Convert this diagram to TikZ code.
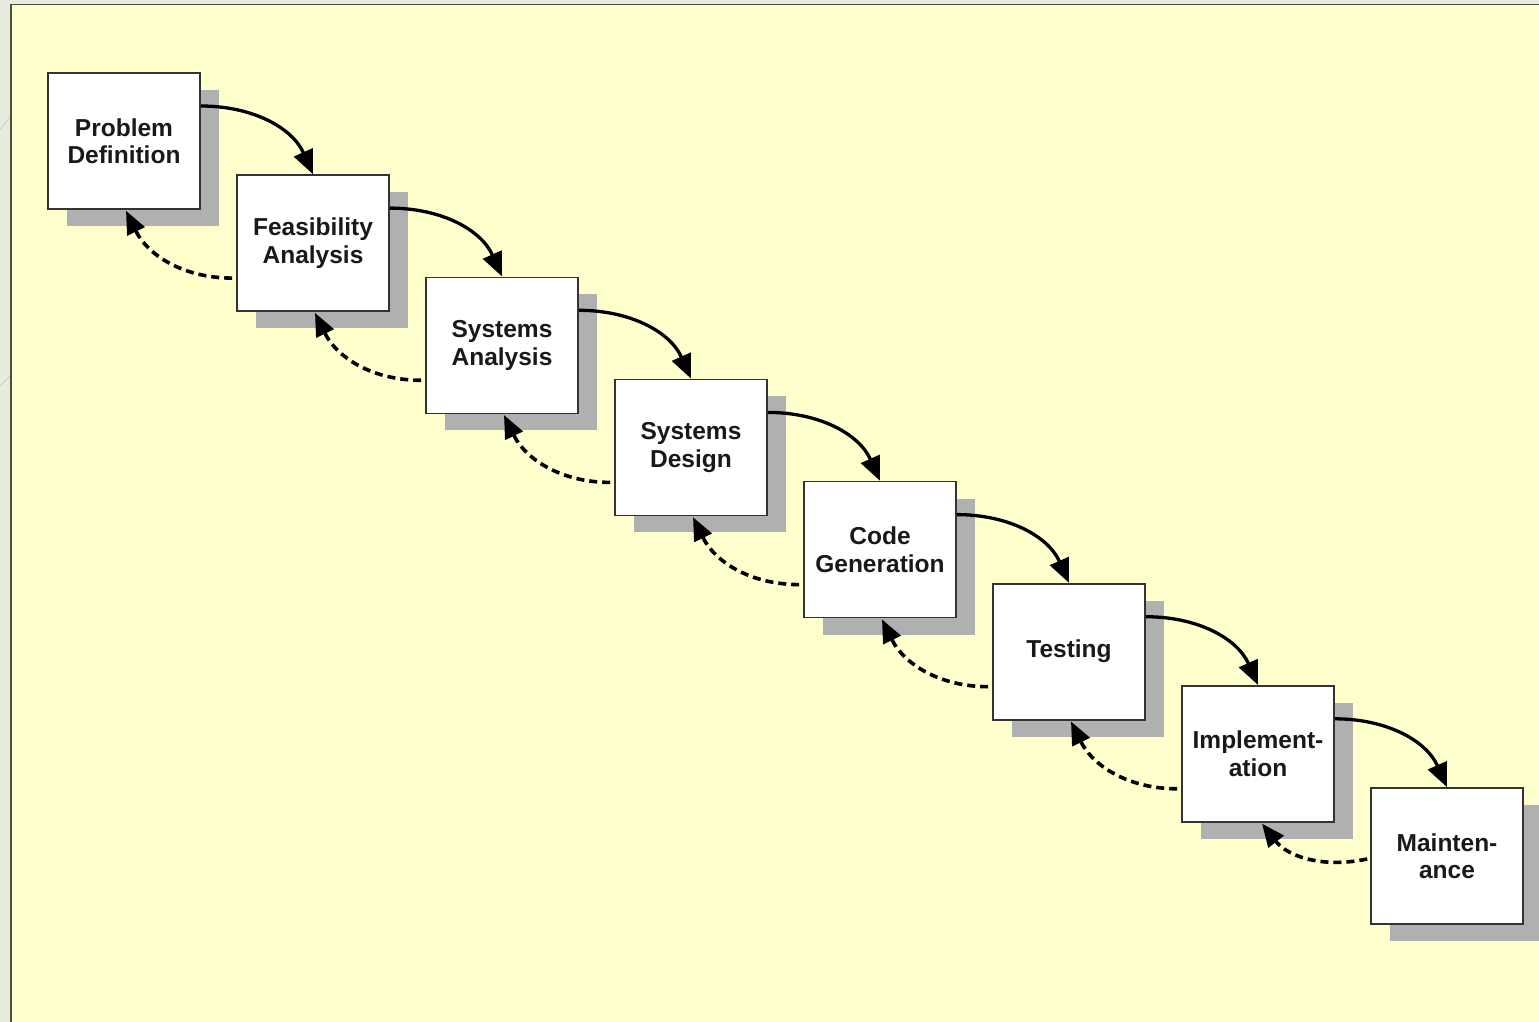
\documentclass[tikz,border=0pt]{standalone}
\usepackage{fontspec}
\setmainfont{Liberation Sans}
\usetikzlibrary{arrows.meta,shadows,calc}
\definecolor{outerbg}{HTML}{E9ECDD}
\definecolor{panelbg}{HTML}{FFFFCE}
\definecolor{panelrule}{HTML}{4C5140}
\definecolor{shadowgray}{HTML}{B0B0B0}
\definecolor{boxrule}{HTML}{333333}
\tikzset{
  stagebox/.style={rectangle, draw=boxrule, line width=1.6pt, fill=white,
    minimum width=152pt, minimum height=136pt, inner sep=0pt,
    align=center, text=black!90,
    font=\bfseries\fontsize{24.5}{27.5}\selectfont,
    general shadow={fill=shadowgray, draw=none, shadow xshift=19pt, shadow yshift=-17pt}},
  forward/.style={line width=3.3pt, -{Triangle[length=24pt,width=20pt]}},
  backward/.style={line width=3.6pt, dash pattern=on 8pt off 5pt,
    -{Triangle[length=23pt,width=19pt]}},
}
\begin{document}
\begin{tikzpicture}[x=1pt,y=-1pt]
  \useasboundingbox (0,0) rectangle (1539,1022);
  % surrounding window and yellow panel
  \fill[outerbg] (0,0) rectangle (1539,1022);
  \fill[panelbg] (11,4.5) rectangle (1539,1022);
  \draw[panelrule, line width=1.8pt] (11,1022) -- (11,4.5) -- (1539,4.5);
  \draw[black!25, line width=0.6pt] (0,130) -- (10,117);
  \draw[black!25, line width=0.6pt] (0,386) -- (10,376);

  % the eight stages, stepping down to the right
  \node[stagebox] (b1) at (124,141) {Problem\\Definition};
  \node[stagebox] (b2) at (313,243.1) {Feasibility\\Analysis};
  \node[stagebox] (b3) at (502,345.3) {Systems\\Analysis};
  \node[stagebox] (b4) at (691,447.4) {Systems\\Design};
  \node[stagebox] (b5) at (880,549.6) {Code\\Generation};
  \node[stagebox] (b6) at (1069,651.7) {Testing};
  \node[stagebox] (b7) at (1258,753.8) {Implement-\\ation};
  \node[stagebox] (b8) at (1447,856) {Mainten-\\ance};

  % forward flow: from each stage's right side onto the next stage's top
  \foreach \a/\b in {b1/b2,b2/b3,b3/b4,b4/b5,b5/b6,b6/b7,b7/b8}{
    \draw[forward] ($(\a.east)+(0,-35)$) to[out=0,in=114,looseness=1.0] (\b.north);
  }
  % feedback: from each stage's left side back to the previous stage's bottom
  \foreach \a/\b in {b2/b1,b3/b2,b4/b3,b5/b4,b6/b5,b7/b6}{
    \draw[backward] ($(\a.west)+(-4,35)$) to[out=180,in=-64,looseness=1.0] ($(\b.south)+(2,1)$);
  }
  \draw[backward] ($(b8.west)+(-3,3)$) to[out=192,in=-52,looseness=1.0] ($(b7.south)+(4,1)$);
\end{tikzpicture}
\end{document}
